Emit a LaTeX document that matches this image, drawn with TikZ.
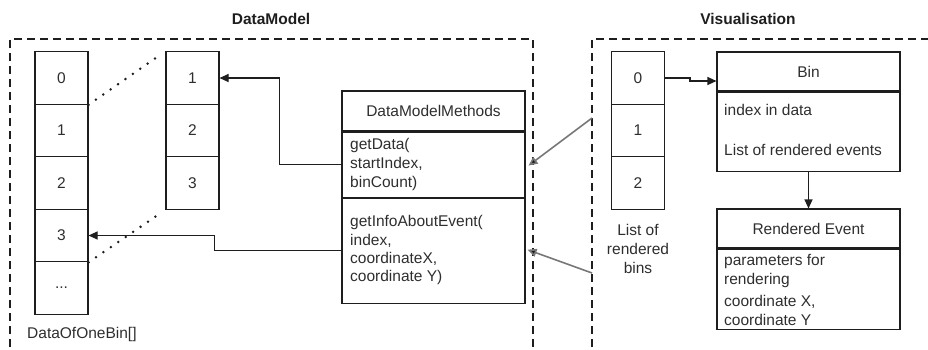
\documentclass[tikz,border=0pt]{standalone}
\usepackage{fontspec}
\setmainfont{Liberation Sans}
\usetikzlibrary{arrows.meta}
\definecolor{ink}{HTML}{1E1E1E}
\definecolor{txt}{HTML}{2E2E2E}
\definecolor{greyline}{HTML}{777777}
\begin{document}
\begin{tikzpicture}[x=1pt,y=-1pt,
  every node/.style={font=\fontsize{15.5}{19}\selectfont, text=txt},
  cell/.style={draw=ink, line width=1.1pt, minimum width=53pt, minimum height=52.5pt, inner sep=0pt},
  part/.style={draw=ink, line width=1.1pt, minimum width=183pt, inner sep=0pt},
  frame/.style={draw=ink, line width=1.1pt, dash pattern=on 8pt off 5pt},
  dotline/.style={draw=ink, line width=2.8pt, line cap=round, dash pattern=on 0pt off 9pt},
  arr/.style={draw=ink, line width=1.1pt, -{Triangle[length=9pt,width=8pt]}},
  grarr/.style={draw=greyline, line width=1.6pt, -{Triangle[length=9pt,width=8pt,fill=ink]}},
  lefttext/.style={anchor=west, inner sep=0pt},
  title/.style={font=\fontsize{15.5}{19}\selectfont\bfseries, text=ink}]

\useasboundingbox (0,0) rectangle (928,349);

% group frames
\draw[frame] (10,360) -- (10,39) -- (533,39) -- (533,360);
\draw[frame] (592,360) -- (592,39) -- (940,39);
\node[title] (tdm) at (271,19) {DataModel};
\node[title] (tvis) at (748,19) {Visualisation};

% DataOfOneBin[] array
\node[cell] (c0) at (61.5,78) {0};
\node[cell] (c1) at (61.5,130.5) {1};
\node[cell] (c2) at (61.5,183) {2};
\node[cell] (c3) at (61.5,235.5) {3};
\node[cell] (c4) at (61.5,288) {...};
\node[lefttext] (lab) at (27,334) {DataOfOneBin[]};

% requested slice
\node[cell] (m1) at (192.5,78) {1};
\node[cell] (m2) at (192.5,130.5) {2};
\node[cell] (m3) at (192.5,183) {3};

\draw[dotline, shorten >=6pt] (c0.south east) -- (m1.north west);
\draw[dotline, shorten >=6pt] (c3.south east) -- (m3.south west);

% DataModelMethods class
\node[part, minimum height=40pt] (dmmHead) at (433.5,111) {DataModelMethods};
\node[part, minimum height=65pt, anchor=north] (dmmGet) at (dmmHead.south) {};
\node[part, minimum height=105pt, anchor=north] (dmmInfo) at (dmmGet.south) {};
\node[lefttext] (g1) at (350,145) {getData(};
\node[lefttext] (g2) at (350,164) {startIndex,};
\node[lefttext] (g3) at (350,183) {binCount)};
\node[lefttext] (i1) at (350,222) {getInfoAboutEvent(};
\node[lefttext] (i2) at (350,240.5) {index,};
\node[lefttext] (i3) at (350,259) {coordinateX,};
\node[lefttext] (i4) at (350,277.5) {coordinate Y)};

\draw[arr] (dmmGet.west) -- ++(-62,0) |- (m1.east);
\draw[arr] (dmmInfo.west) -- ++(-127,0) |- (c3.east);

% list of rendered bins
\node[cell] (r0) at (638,78) {0};
\node[cell] (r1) at (638,130.5) {1};
\node[cell] (r2) at (638,183) {2};
\node[align=center, inner sep=0pt] (rlab) at (638,248.5) {List of\\rendered\\bins};

% Bin class
\node[part, minimum height=39pt] (binHead) at (808.5,71.5) {Bin};
\node[part, minimum height=79pt, anchor=north] (binBody) at (binHead.south) {};
\node[lefttext] (b1) at (724,110) {index in data};
\node[lefttext] (b2) at (724,150) {List of rendered events};

% Rendered Event class
\node[part, minimum height=39pt] (reHead) at (808.5,228.5) {Rendered Event};
\node[part, minimum height=80pt, anchor=north] (reBody) at (reHead.south) {};
\node[lefttext] (e1) at (724,261) {parameters for};
\node[lefttext] (e2) at (724,280.5) {rendering};
\node[lefttext] (e3) at (724,301.5) {coordinate X,};
\node[lefttext] (e4) at (724,320) {coordinate Y};

\coordinate (jog) at (690,81);
\draw[arr] (r0.east) -- (jog |- r0.east) -- (jog) -- (jog -| binHead.west);
\draw[arr] (binBody.south) -- (reHead.north);

% calls from the visualisation side
\coordinate (v1) at (592,118);
\coordinate (v2) at (592,273);
\draw[grarr] (v1) -- ([xshift=3pt,yshift=-1pt]dmmGet.east);
\draw[grarr] (v2) -- ([xshift=2pt,yshift=1pt]dmmInfo.east);
\end{tikzpicture}
\end{document}
